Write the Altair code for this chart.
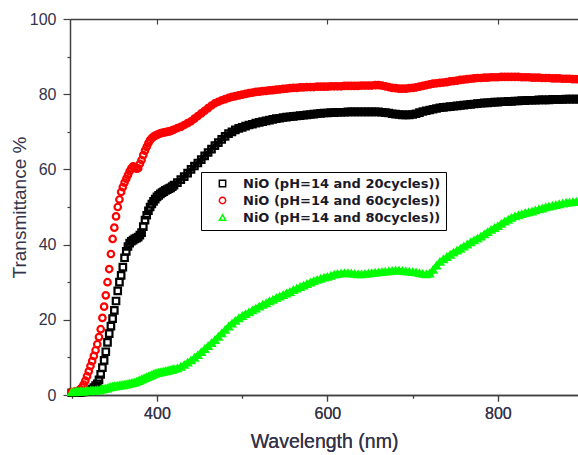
import altair as alt
import pandas as pd

# wavelength grid (nm)
wavelength = list(range(300, 421, 2)) + list(range(424, 897, 4))

# NiO (pH=14 and 20cycles)
t20 = [
    0.6, 0.6, 0.6, 0.7, 0.7, 0.7, 0.8, 0.8, 0.9, 1.0,
    1.1, 1.3, 1.6, 2.0, 2.5, 3.0, 4.0, 5.5, 7.3, 9.2,
    11.5, 14.0, 16.3, 18.3, 20.3, 22.5, 25.0, 27.7, 30.0, 31.8,
    34.0, 36.5, 38.2, 39.5, 40.4, 40.9, 41.2, 41.5, 41.7, 42.0,
    42.5, 43.2, 44.8, 46.5, 47.8, 49.0, 50.0, 50.8, 51.5, 52.1,
    52.7, 53.1, 53.5, 53.8, 54.1, 54.4, 54.6, 54.9, 55.1, 55.4,
    55.8,
    56.5, 57.3, 58.1, 59.0, 60.0, 60.9, 61.7, 62.6, 63.6, 64.5,
    65.4, 66.3, 67.1, 68.0, 68.8, 69.5, 70.0, 70.5, 70.9, 71.2,
    71.5, 71.8, 72.0, 72.3, 72.5, 72.7, 72.9, 73.1, 73.3, 73.5,
    73.6, 73.8, 73.9, 74.0, 74.1, 74.2, 74.3, 74.4, 74.5, 74.6,
    74.7, 74.8, 74.9, 75.0, 75.0, 75.1, 75.1, 75.2, 75.2, 75.2,
    75.3, 75.3, 75.3, 75.3, 75.3, 75.3, 75.3, 75.3, 75.3, 75.3,
    75.2, 75.1, 75.0, 74.8, 74.7, 74.6, 74.5, 74.5, 74.5, 74.6,
    74.8, 75.1, 75.4, 75.6, 75.8, 76.0, 76.2, 76.4, 76.5, 76.6,
    76.7, 76.8, 76.9, 77.0, 77.1, 77.2, 77.3, 77.4, 77.5, 77.6,
    77.7, 77.7, 77.8, 77.9, 77.9, 78.0, 78.0, 78.1, 78.1, 78.2,
    78.2, 78.3, 78.3, 78.4, 78.4, 78.4, 78.5, 78.5, 78.5, 78.5,
    78.6, 78.6, 78.6, 78.6, 78.7, 78.7, 78.7, 78.7, 78.7,
]

# NiO (pH=14 and 60cycles)
t60 = [
    0.8, 0.8, 0.9, 1.0, 1.2, 1.5, 2.0, 2.8, 3.8, 5.0,
    6.3, 7.7, 9.0, 10.4, 11.9, 13.5, 15.4, 17.5, 20.5, 23.5,
    26.5, 30.0, 33.5, 37.5, 41.5, 44.5, 47.5, 50.0, 52.0, 54.0,
    55.3, 56.5, 57.5, 58.5, 59.5, 60.3, 60.8, 60.5, 60.2, 60.3,
    61.5, 62.5, 63.8, 65.0, 66.0, 67.0, 67.8, 68.3, 68.7, 69.0,
    69.2, 69.4, 69.6, 69.7, 69.8, 69.9, 70.0, 70.1, 70.2, 70.4,
    70.6,
    71.0, 71.3, 71.8, 72.3, 72.8, 73.5, 74.2, 74.9, 75.6, 76.3,
    77.0, 77.6, 78.0, 78.4, 78.7, 79.0, 79.3, 79.5, 79.7, 79.9,
    80.1, 80.3, 80.4, 80.6, 80.7, 80.8, 80.9, 81.0, 81.1, 81.2,
    81.3, 81.4, 81.5, 81.6, 81.7, 81.7, 81.8, 81.8, 81.9, 81.9,
    81.9, 82.0, 82.0, 82.0, 82.0, 82.1, 82.1, 82.1, 82.1, 82.2,
    82.2, 82.2, 82.2, 82.2, 82.3, 82.3, 82.3, 82.3, 82.4, 82.4,
    82.3, 82.1, 81.9, 81.7, 81.6, 81.5, 81.5, 81.5, 81.6, 81.7,
    81.8, 82.0, 82.2, 82.4, 82.6, 82.8, 82.9, 83.0, 83.1, 83.2,
    83.4, 83.5, 83.6, 83.8, 83.9, 84.0, 84.1, 84.2, 84.3, 84.3,
    84.4, 84.4, 84.5, 84.5, 84.5, 84.6, 84.6, 84.6, 84.6, 84.6,
    84.6, 84.5, 84.5, 84.5, 84.4, 84.4, 84.4, 84.3, 84.3, 84.3,
    84.2, 84.2, 84.2, 84.1, 84.1, 84.1, 84.0, 84.0, 84.0,
]

# NiO (pH=14 and 80cycles)
t80 = [
    0.8, 0.7, 0.8, 0.9, 0.8, 0.9, 1.0, 0.9, 1.0, 1.1,
    1.0, 1.1, 1.2, 1.1, 1.2, 1.3, 1.2, 1.4, 1.5, 1.6,
    1.7, 1.8, 2.0, 2.1, 2.2, 2.3, 2.3, 2.4, 2.5, 2.6,
    2.6, 2.7, 2.8, 2.9, 3.0, 3.1, 3.2, 3.3, 3.5, 3.7,
    3.9, 4.1, 4.3, 4.5, 4.7, 4.9, 5.1, 5.3, 5.5, 5.7,
    5.8, 5.9, 6.0, 6.1, 6.2, 6.3, 6.4, 6.5, 6.6, 6.7,
    6.9,
    7.1, 7.5, 8.0, 8.6, 9.2, 9.9, 10.6, 11.4, 12.2, 13.0,
    13.8, 14.6, 15.5, 16.4, 17.3, 18.2, 19.0, 19.7, 20.4, 21.0,
    21.5, 22.0, 22.5, 23.0, 23.5, 24.0, 24.4, 24.9, 25.3, 25.8,
    26.2, 26.6, 27.0, 27.4, 27.9, 28.3, 28.7, 29.1, 29.5, 29.9,
    30.3, 30.6, 30.9, 31.2, 31.4, 31.7, 32.0, 32.2, 32.3, 32.4,
    32.4, 32.3, 32.2, 32.1, 32.1, 32.2, 32.3, 32.4, 32.5, 32.6,
    32.7, 32.8, 32.9, 33.0, 33.1, 33.1, 33.0, 32.9, 32.8, 32.7,
    32.6, 32.4, 32.2, 32.1, 32.3, 33.3, 34.4, 35.4, 36.1, 36.7,
    37.3, 37.9, 38.4, 38.9, 39.5, 40.0, 40.6, 41.1, 41.6, 42.1,
    42.7, 43.3, 43.9, 44.4, 44.9, 45.5, 46.1, 46.6, 47.1, 47.5,
    47.8, 48.1, 48.4, 48.6, 48.8, 49.1, 49.4, 49.6, 49.9, 50.1,
    50.3, 50.5, 50.7, 50.9, 51.1, 51.2, 51.3, 51.4, 51.5,
]

series_names = [
    "NiO (pH=14 and 20cycles))",
    "NiO (pH=14 and 60cycles))",
    "NiO (pH=14 and 80cycles))",
]
series_colors = ["#000000", "#ff0000", "#00ff00"]
series_shapes = ["square", "circle", "triangle-up"]

x_ticks = [300, 400, 500, 600, 700, 800]
y_ticks = [0, 10, 20, 30, 40, 50, 60, 70, 80, 90, 100]

rows = []
for name, vals in zip(series_names, [t20, t60, t80]):
    for w, v in zip(wavelength, vals):
        rows.append({"wl": w, "T": v, "series": name})
df = pd.DataFrame(rows)

FONT = "Liberation Sans"
TXT = "#33334a"
AX = "#404040"

x_scale = alt.Scale(domain=[298, 894], nice=False, zero=False)
y_scale = alt.Scale(domain=[0, 100], nice=False, zero=False)
color_scale = alt.Scale(domain=series_names, range=series_colors)
shape_scale = alt.Scale(domain=series_names, range=series_shapes)

x_axis = alt.Axis(
    orient="bottom", values=x_ticks, format="d",
    labelExpr="datum.value % 200 == 0 ? datum.label : ''",
    tickSize={"condition": {"test": "datum.value % 200 == 0", "value": 6}, "value": 3},
    labelPadding=4, labelFont=FONT, labelFontSize=16, labelColor=TXT,
    title="Wavelength (nm)", titleFont=FONT, titleFontSize=19.5,
    titleFontWeight="normal", titleColor=TXT, titlePadding=11,
    domainColor=AX, domainWidth=1.5, tickColor=AX, tickWidth=1.2, grid=False,
)
y_axis = alt.Axis(
    orient="left", values=y_ticks, format="d",
    labelExpr="datum.value % 20 == 0 ? datum.label : ''",
    tickSize={"condition": {"test": "datum.value % 20 == 0", "value": 7}, "value": 3},
    labelPadding=7, labelFont=FONT, labelFontSize=16, labelColor=TXT,
    title="Transmittance %", titleFont=FONT, titleFontSize=19,
    titleFontWeight="normal", titleColor=TXT, titlePadding=0,
    domainColor=AX, domainWidth=1.5, tickColor=AX, tickWidth=1.2,
    grid=True, gridColor=AX, gridWidth=1.5,
    gridOpacity={"condition": {"test": "datum.value == 100", "value": 1}, "value": 0},
)
top_axis = alt.Axis(
    orient="top", values=[400, 600, 800], labels=False, domain=False,
    ticks=True, tickSize=5, offset=-5, tickColor=AX, tickWidth=1.2,
    title=None, grid=False,
)

legend = alt.Legend(
    orient="none", legendX=131, legendY=153, title=None,
    strokeColor="#000000", fillColor="#ffffff", padding=5, cornerRadius=0,
    labelFont="DejaVu Sans", labelFontSize=13, labelFontWeight="bold", labelColor="#1a1a2a",
    labelLimit=0, symbolSize=40, symbolStrokeWidth=1.5, rowPadding=3,
    symbolOffset=10, labelOffset=14,
)

enc_x = alt.X("wl:Q", scale=x_scale, axis=x_axis)
enc_y = alt.Y("T:Q", scale=y_scale, axis=y_axis)
enc_color = alt.Color("series:N", scale=color_scale, legend=legend)
enc_shape = alt.Shape("series:N", scale=shape_scale, legend=legend)

# dense band under the markers where the measured points overlap
band = alt.Chart(df).transform_filter(
    f"datum.wl >= 404 || datum.series == '{series_names[2]}'"
).mark_line(strokeWidth=5, strokeJoin="round", strokeCap="round").encode(
    x=enc_x, y=enc_y, color=enc_color, detail="series:N",
)

points = alt.Chart(df).mark_point(
    filled=False, size=42, strokeWidth=2.2, opacity=1
).encode(
    x=enc_x, y=enc_y, color=enc_color, shape=enc_shape,
)

top = alt.Chart(pd.DataFrame({"wl": [400]})).mark_rule(opacity=0).encode(
    x=alt.X("wl:Q", scale=x_scale, axis=top_axis),
)

chart = alt.layer(band, points, top).properties(
    width=508, height=376,
    padding={"left": 70, "top": 19, "right": 0, "bottom": 60},
    autosize="none",
).configure_view(stroke=None).configure(background="#ffffff")

chart.save("out.html", embed_options={"renderer": "svg", "actions": False})
